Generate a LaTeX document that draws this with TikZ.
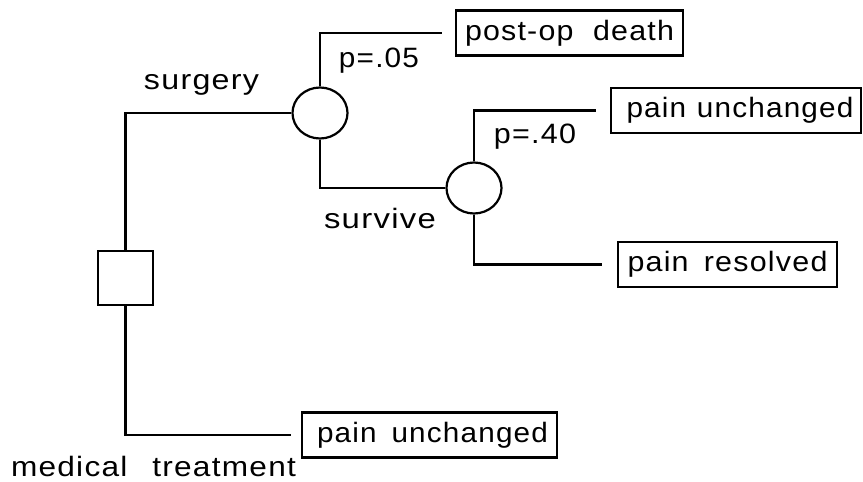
\documentclass[tikz,border=0pt]{standalone}
\usepackage{fontspec}
\setmainfont[LetterSpace=4]{Liberation Sans}
\usetikzlibrary{shapes.geometric}
\newcommand{\fitx}[2]{\resizebox{#1}{\height}{#2}}
\begin{document}
\begin{tikzpicture}[x=1pt,y=-1pt,line width=2.2pt,
  txt/.style={font=\fontsize{28}{34}\selectfont},
  lbl/.style={txt,inner sep=0pt,anchor=base},
  outcome/.style={draw,txt,inner sep=0pt,minimum height=45pt},
  chance/.style={draw,ellipse,minimum width=55pt,minimum height=51pt,inner sep=0pt},
  decision/.style={draw,rectangle,minimum width=55pt,minimum height=54pt,inner sep=0pt}]
\useasboundingbox (0,0) rectangle (863,482);
% decision and chance nodes
\node[decision] (sq) at (125.5,278) {};
\node[chance] (c1) at (320,113) {};
\node[chance] (c2) at (474,188) {};
% outcome boxes
\node[outcome,minimum width=227pt] (b1) at (569.5,33) {\fitx{209pt}{post-op\hspace{18pt}death}};
\node[outcome,minimum width=250pt] (b2) at (736,110.5) {\hspace{8pt}\fitx{227pt}{pain\hspace{10pt}unchanged}};
\node[outcome,minimum width=219pt] (b3) at (727.5,264.5) {\fitx{200pt}{pain\hspace{14pt}resolved}\hspace{7pt}};
\node[outcome,minimum width=255pt] (b4) at (429.5,435) {\hspace{6pt}\fitx{231pt}{pain\hspace{14pt}unchanged}};
% labels
\node[lbl] (lsurg) at (201.5,89) {\fitx{115pt}{surgery}};
\node[lbl] (lp05) at (379,67) {\fitx{80pt}{p=.05}};
\node[lbl] (lsurv) at (380,228) {\fitx{112pt}{survive}};
\node[lbl] (lp40) at (535,143) {\fitx{82pt}{p=.40}};
\node[lbl] (lmed) at (153.5,476) {\fitx{285pt}{medical\hspace{22pt}treatment}};
% connectors
\draw (sq.north) |- (c1.west);
\draw (sq.south) |- ([xshift=-10pt]b4.west);
\draw (c1.north) |- ([xshift=-13pt]b1.west);
\draw (c1.south) |- (c2.west);
\draw (c2.north) |- ([xshift=-14pt]b2.west);
\draw (c2.south) |- ([xshift=-15pt]b3.west);
\end{tikzpicture}
\end{document}
